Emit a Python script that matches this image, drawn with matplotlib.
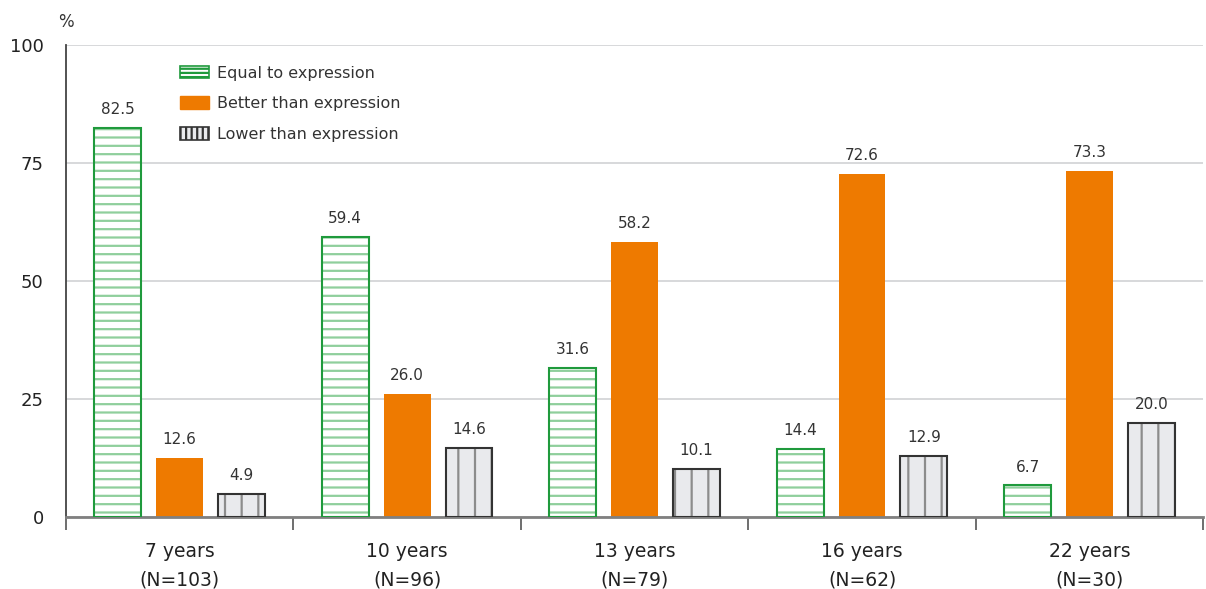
import matplotlib.pyplot as plt
import numpy as np
from matplotlib.patches import Patch

groups = ["7 years\n(N=103)", "10 years\n(N=96)", "13 years\n(N=79)",
          "16 years\n(N=62)", "22 years\n(N=30)"]
equal = [82.5, 59.4, 31.6, 14.4, 6.7]
better = [12.6, 26.0, 58.2, 72.6, 73.3]
lower = [4.9, 14.6, 10.1, 12.9, 20.0]
series_names = ["Equal to expression", "Better than expression", "Lower than expression"]
yticks = [0, 25, 50, 75, 100]

plt.rcParams["font.family"] = ["DejaVu Sans"]
plt.rcParams["hatch.linewidth"] = 1.6

fig = plt.figure(figsize=(12.06, 5.89), dpi=100)
ax = fig.add_axes([0.0547, 0.1222, 0.943, 0.8014])

x = np.arange(len(groups))
w = 0.206
off = 0.272

green, green_h = "#1f9a3c", "#8fcf9c"
orange = "#ee7a00"
gray_fill, gray_h, gray_edge = "#e9eaed", "#8c8c8c", "#333333"

# hatched fills first, outlines on top so the hatch can be lighter
ax.bar(x - off, equal, w, color="white", edgecolor=green_h, hatch="--", lw=0, zorder=2)
ax.bar(x - off, equal, w, fill=False, edgecolor=green, lw=1.5, zorder=3)
ax.bar(x, better, w, color=orange, lw=0, zorder=2)
ax.bar(x + off, lower, w, color=gray_fill, edgecolor=gray_h, hatch="|", lw=0, zorder=2)
ax.bar(x + off, lower, w, fill=False, edgecolor=gray_edge, lw=1.5, zorder=3)

for dx, vals in [(-off, equal), (0, better), (off, lower)]:
    for xi, v in zip(x, vals):
        ax.text(xi + dx, v + 2.3, f"{v:.1f}", ha="center", va="bottom",
                fontsize=11, color="#333333")

handles = [
    Patch(facecolor="white", edgecolor=green, hatch="----", lw=1.2),
    Patch(facecolor=orange, edgecolor=orange),
    Patch(facecolor=gray_fill, edgecolor=gray_edge, hatch="|||", lw=1.2),
]
ax.legend(handles, series_names, loc="upper left", bbox_to_anchor=(0.088, 0.987),
          frameon=False, fontsize=11.5, handlelength=1.8, handleheight=0.85,
          labelspacing=0.98, handletextpad=0.5, labelcolor="#333333")

ax.set_xlim(-0.5, len(groups) - 0.5)
ax.set_ylim(0, 100)
ax.set_yticks(yticks)
ax.set_yticklabels([str(t) for t in yticks], fontsize=13, color="#222222")
ax.set_xticks(x)
ax.set_xticklabels(groups, fontsize=13.5, color="#222222", linespacing=1.6)
ax.set_xticks(np.arange(len(groups) + 1) - 0.5, minor=True)
ax.tick_params(axis="x", which="major", length=0, pad=18)
ax.tick_params(axis="x", which="minor", length=9, width=1.2, color="#555555")
ax.tick_params(axis="y", length=0, pad=16)

ax.grid(axis="y", color="#d4d6d8", lw=1.3, zorder=0)
ax.set_axisbelow(True)
for s in ["top", "right"]:
    ax.spines[s].set_visible(False)
ax.spines["left"].set_color("#444444")
ax.spines["left"].set_linewidth(1.3)
ax.spines["bottom"].set_color("#808080")
ax.spines["bottom"].set_linewidth(2.0)

ax.text(0.0, 1.03, "%", transform=ax.transAxes, ha="center", va="bottom",
        fontsize=12, color="#333333")

fig.savefig("out.png", dpi=100)
